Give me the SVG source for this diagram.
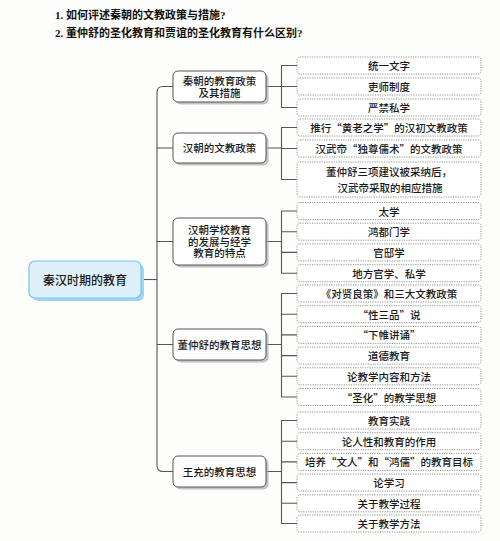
<svg xmlns="http://www.w3.org/2000/svg" width="500" height="541" viewBox="0 0 500 541">
<style>
.title{font-family:"Liberation Serif","Noto Sans CJK SC",serif;font-size:11px;font-weight:bold;fill:#111}
.t{font-family:"Noto Sans CJK SC","Liberation Sans",sans-serif;fill:#1a1a1a;text-anchor:middle;dominant-baseline:central}
.root-t{font-size:12px;font-weight:500}
.l1-t{font-family:"Liberation Sans","Noto Sans CJK SC",sans-serif;font-size:10.5px;font-weight:500}
.leaf-t{font-size:10.5px;font-weight:500}
.l1{fill:#fff;stroke:#555;stroke-width:1}
.l1s{fill:#a8a8a8;opacity:0.7}
.leaf{fill:#fff;stroke:#8a8a8a;stroke-width:0.9;stroke-dasharray:1.2 1.2}
.c{fill:none;stroke:#555;stroke-width:1.1}
</style>
<rect width="500" height="541" fill="#fdfdfb"/>
<g id="titles">
<text class="title" x="55" y="19">1. 如何评述秦朝的文教政策与措施?</text>
<text class="title" x="55" y="37">2. 董仲舒的圣化教育和贾谊的圣化教育有什么区别?</text>
</g>
<g id="connectors">
<path class="c" d="M141 279.5 H157"/>
<path class="c" d="M173 86.5 H163 Q157 86.5 157 92.5 V465.5 Q157 471.5 163 471.5 H173"/>
<path class="c" d="M157 148 H173 M157 241.5 H173 M157 344.5 H173"/>
<path class="c" d="M266 86.5 H281.5 M297 65.5 H281.5 V107.5 H297 M281.5 86.5 H297"/>
<path class="c" d="M266 148 H281.5 M297 127.5 H281.5 V179.5 H297 M281.5 148.5 H297"/>
<path class="c" d="M266 241.5 H281.5 M297 211 H281.5 V273.2 H297 M281.5 231.7 H297 M281.5 252.4 H297"/>
<path class="c" d="M266 344.5 H281.5 M297 293.5 H281.5 V397 H297 M281.5 314.2 H297 M281.5 334.9 H297 M281.5 355.6 H297 M281.5 376.3 H297"/>
<path class="c" d="M266 471.5 H281.5 M297 420.5 H281.5 V523.5 H297 M281.5 441.2 H297 M281.5 461.9 H297 M281.5 482.6 H297 M281.5 503.3 H297"/>
</g>
<g id="root">
<rect x="32" y="264" width="112" height="37" rx="6" fill="#9fd6f2"/>
<rect x="29" y="261" width="112" height="37" rx="6" fill="#def1fb" stroke="#78c6ea" stroke-width="1.2"/>
<text class="t root-t" x="85" y="279.5">秦汉时期的教育</text>
</g>
<g id="n1">
<rect class="l1s" x="175.5" y="73.5" width="93" height="31" rx="5"/>
<rect class="l1" x="173" y="71" width="93" height="31" rx="5"/>
<text class="t l1-t" x="219.5" y="80.6">秦朝的教育政策</text>
<text class="t l1-t" x="219.5" y="92.6">及其措施</text>
</g>
<g id="n2">
<rect class="l1s" x="175.5" y="135.5" width="93" height="30" rx="5"/>
<rect class="l1" x="173" y="133" width="93" height="30" rx="5"/>
<text class="t l1-t" x="219.5" y="148">汉朝的文教政策</text>
</g>
<g id="n3">
<rect class="l1s" x="175.5" y="220.5" width="93" height="47" rx="5"/>
<rect class="l1" x="173" y="218" width="93" height="47" rx="5"/>
<text class="t l1-t" x="219.5" y="229.6">汉朝学校教育</text>
<text class="t l1-t" x="219.5" y="241.5">的发展与经学</text>
<text class="t l1-t" x="219.5" y="253.4">教育的特点</text>
</g>
<g id="n4">
<rect class="l1s" x="175.5" y="331.5" width="93" height="31" rx="5"/>
<rect class="l1" x="173" y="329" width="93" height="31" rx="5"/>
<text class="t l1-t" x="219.5" y="344.5">董仲舒的教育思想</text>
</g>
<g id="n5">
<rect class="l1s" x="175.5" y="458.5" width="93" height="31" rx="5"/>
<rect class="l1" x="173" y="456" width="93" height="31" rx="5"/>
<text class="t l1-t" x="219.5" y="471.5">王充的教育思想</text>
</g>
<g id="leaves1">
<g id="l1a"><rect class="leaf" x="297" y="57" width="184" height="17" rx="3"/><text class="t leaf-t" x="389" y="65.5">统一文字</text></g>
<g id="l1b"><rect class="leaf" x="297" y="78" width="184" height="17" rx="3"/><text class="t leaf-t" x="389" y="86.5">吏师制度</text></g>
<g id="l1c"><rect class="leaf" x="297" y="99" width="184" height="17" rx="3"/><text class="t leaf-t" x="389" y="107.5">严禁私学</text></g>
</g>
<g id="leaves2">
<g id="l2a"><rect class="leaf" x="297" y="119" width="184" height="17" rx="3"/><text class="t leaf-t" x="389" y="127.5">推行“黄老之学”的汉初文教政策</text></g>
<g id="l2b"><rect class="leaf" x="297" y="140" width="184" height="17" rx="3"/><text class="t leaf-t" x="389" y="148.5">汉武帝“独尊儒术”的文教政策</text></g>
<g id="l2c"><rect class="leaf" x="297" y="162" width="184" height="35" rx="3"/><text class="t leaf-t" x="389" y="171">董仲舒三项建议被采纳后，</text><text class="t leaf-t" x="390" y="187">汉武帝采取的相应措施</text></g>
</g>
<g id="leaves3">
<g id="l3a"><rect class="leaf" x="297" y="202.5" width="184" height="17" rx="3"/><text class="t leaf-t" x="389" y="211">太学</text></g>
<g id="l3b"><rect class="leaf" x="297" y="223.2" width="184" height="17" rx="3"/><text class="t leaf-t" x="389" y="231.7">鸿都门学</text></g>
<g id="l3c"><rect class="leaf" x="297" y="243.9" width="184" height="17" rx="3"/><text class="t leaf-t" x="389" y="252.4">官邸学</text></g>
<g id="l3d"><rect class="leaf" x="297" y="264.7" width="184" height="17" rx="3"/><text class="t leaf-t" x="389" y="273.2">地方官学、私学</text></g>
</g>
<g id="leaves4">
<g id="l4a"><rect class="leaf" x="297" y="285" width="184" height="17" rx="3"/><text class="t leaf-t" x="389" y="293.5">《对贤良策》和三大文教政策</text></g>
<g id="l4b"><rect class="leaf" x="297" y="305.7" width="184" height="17" rx="3"/><text class="t leaf-t" x="389" y="314.2">“性三品”说</text></g>
<g id="l4c"><rect class="leaf" x="297" y="326.4" width="184" height="17" rx="3"/><text class="t leaf-t" x="389" y="334.9">“下帷讲诵”</text></g>
<g id="l4d"><rect class="leaf" x="297" y="347.1" width="184" height="17" rx="3"/><text class="t leaf-t" x="389" y="355.6">道德教育</text></g>
<g id="l4e"><rect class="leaf" x="297" y="367.8" width="184" height="17" rx="3"/><text class="t leaf-t" x="389" y="376.3">论教学内容和方法</text></g>
<g id="l4f"><rect class="leaf" x="297" y="388.5" width="184" height="17" rx="3"/><text class="t leaf-t" x="389" y="397">“圣化”的教学思想</text></g>
</g>
<g id="leaves5">
<g id="l5a"><rect class="leaf" x="297" y="412" width="184" height="17" rx="3"/><text class="t leaf-t" x="389" y="420.5">教育实践</text></g>
<g id="l5b"><rect class="leaf" x="297" y="432.7" width="184" height="17" rx="3"/><text class="t leaf-t" x="389" y="441.2">论人性和教育的作用</text></g>
<g id="l5c"><rect class="leaf" x="297" y="453.4" width="184" height="17" rx="3"/><text class="t leaf-t" x="389" y="461.9">培养“文人”和“鸿儒”的教育目标</text></g>
<g id="l5d"><rect class="leaf" x="297" y="474.1" width="184" height="17" rx="3"/><text class="t leaf-t" x="389" y="482.6">论学习</text></g>
<g id="l5e"><rect class="leaf" x="297" y="494.8" width="184" height="17" rx="3"/><text class="t leaf-t" x="389" y="503.3">关于教学过程</text></g>
<g id="l5f"><rect class="leaf" x="297" y="515" width="184" height="17" rx="3"/><text class="t leaf-t" x="389" y="523.5">关于教学方法</text></g>
</g>
</svg>
